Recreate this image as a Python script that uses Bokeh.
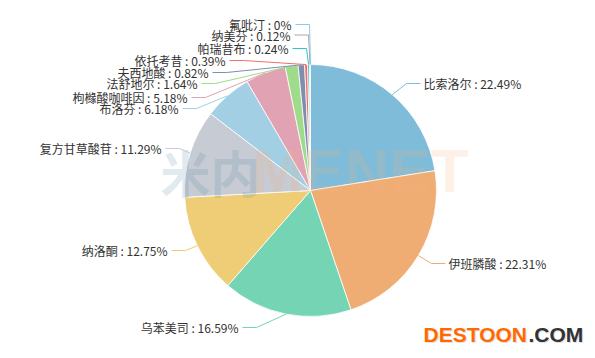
import math
from bokeh.plotting import figure
from bokeh.models import Range1d, ColumnDataSource
from bokeh.core.properties import value
from bokeh.embed import file_html
from bokeh.resources import INLINE

# ---- data ----
names = ["比索洛尔", "伊班膦酸", "乌苯美司", "纳洛酮", "复方甘草酸苷", "布洛芬",
         "枸橼酸咖啡因", "法舒地尔", "夫西地酸", "依托考昔", "帕瑞昔布", "纳美芬", "氟吡汀"]
shares = [22.49, 22.31, 16.59, 12.75, 11.29, 6.18, 5.18, 1.64, 0.82, 0.39, 0.24, 0.12, 0]
pct_labels = ["22.49%", "22.31%", "16.59%", "12.75%", "11.29%", "6.18%", "5.18%",
              "1.64%", "0.82%", "0.39%", "0.24%", "0.12%", "0%"]

# ---- style / layout ----
colors = ["#7ebcd9", "#efad74", "#74d4b3", "#efcd76", "#c7cbd3", "#a2cfe3", "#e1a2b4",
          "#9fdb8a", "#7d8fac", "#ef6e6e", "#2ec7c9", "#b6a2a0", "#8fc9e8"]
W, H = 595, 358
CX, CY, R = 310, H - 190, 126
# label text anchor (pixel x of text edge, pixel y from top) and side
label_side = ["right", "right", "left", "left", "left", "left", "left",
              "left", "left", "left", "left", "left", "left"]
label_px = [423, 448, 238, 167, 161, 178, 187, 197, 208, 225, 288, 290, 291]
label_py = [83, 263, 327, 250, 148, 108, 97, 83, 72, 60, 48, 34.5, 24]

p = figure(width=W, height=H, x_range=Range1d(0, W), y_range=Range1d(0, H),
           min_border=0, toolbar_location=None, output_backend="svg")
p.axis.visible = False
p.grid.visible = False
p.outline_line_color = None
p.background_fill_color = "white"

total = sum(shares)
starts, ends, mids, wcolors = [], [], [], []
cum = 0.0
for s, c in zip(shares, colors):
    a0 = math.pi / 2 - 2 * math.pi * cum / total
    cum += s
    a1 = math.pi / 2 - 2 * math.pi * cum / total
    mids.append((a0 + a1) / 2)
    if s > 0:
        starts.append(a1)
        ends.append(a0)
        wcolors.append(c)

src = ColumnDataSource(dict(start=starts, end=ends, color=wcolors))
p.wedge(x=CX, y=CY, radius=R, start_angle="start", end_angle="end",
        direction="anticlock", fill_color="color", line_color="white",
        line_width=0.8, source=src)

# watermark
p.text(x=[160], y=[H - 170], text=["米内"], text_font=value("Noto Sans CJK SC"),
       text_font_size="50px", text_font_style="bold", text_color="#558ca5",
       text_alpha=0.18, text_baseline="middle", text_align="left")
p.text(x=[251], y=[H - 170], text=["MENET"], text_font=value("Liberation Sans"),
       text_font_size="62px", text_font_style="bold", text_color="#f5b478",
       text_alpha=0.18, text_baseline="middle", text_align="left")

# label lines and texts
for i, nm in enumerate(names):
    ex = CX + R * math.cos(mids[i])
    ey = CY + R * math.sin(mids[i])
    tx, ty = label_px[i], H - label_py[i]
    if label_side[i] == "right":
        bx, lx, align = tx - 17, tx - 3, "left"
    else:
        bx, lx, align = tx + 18, tx + 4, "right"
    p.line([ex, bx, lx], [ey, ty, ty], line_color=colors[i], line_width=1)
    p.text(x=[tx], y=[ty], text=[f"{nm} : {pct_labels[i]}"],
           text_font=value("Noto Sans CJK SC"), text_font_size="12px",
           text_color="#333333", text_baseline="middle", text_align=align)

# DESTOON logo
p.text(x=[424, 423], y=[H - 335, H - 334], text=["DESTOON", "DESTOON"],
       text_font=value("Liberation Sans"), text_font_size="21px", text_font_style="bold",
       text_color=["#e0e0e0", "#ff6a00"], text_baseline="middle", text_align="left")
p.text(x=[529, 528], y=[H - 335, H - 334], text=[".COM", ".COM"],
       text_font=value("Liberation Sans"), text_font_size="21px", text_font_style="bold",
       text_color=["#e0e0e0", "#333333"], text_baseline="middle", text_align="left")

open("out.html", "w").write(file_html(p, INLINE))
